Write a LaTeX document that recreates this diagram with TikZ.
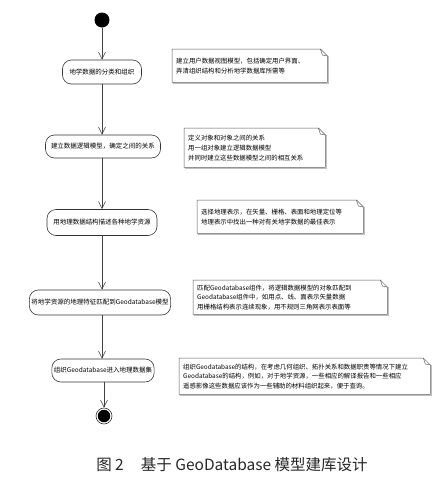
\documentclass[tikz,border=0pt]{standalone}
\usepackage{fontspec}
\setmainfont{Noto Sans CJK SC}
\usetikzlibrary{arrows.meta,calc}
\newcommand\drawnotebox[1]{%
  \draw[noteshadow] ([xshift=1.2pt,yshift=-1.2pt]#1.south west) -- ([xshift=1.2pt,yshift=-1.2pt]#1.south east) -- ([xshift=1.2pt,yshift=-7pt]#1.north east);
  \draw[noteline] (#1.north west) -- ([xshift=-7pt]#1.north east) -- ([yshift=-7pt]#1.north east) -- (#1.south east) -- (#1.south west) -- cycle;
  \draw[noteline] ([xshift=-7pt]#1.north east) -- ([xshift=-5pt,yshift=-6pt]#1.north east) -- ([yshift=-7pt]#1.north east);
}
\begin{document}
\begin{tikzpicture}[x=1pt,y=-1pt,
  act/.style={draw=black!80, line width=0.6pt, rounded corners=9pt, font=\fontsize{6.5}{8}\selectfont, inner xsep=2pt, inner ysep=1pt, minimum height=24pt, text=black},
  notebox/.style={anchor=north west, align=left, font=\fontsize{6.4}{10}\selectfont, inner xsep=4pt, inner ysep=2pt, text=black},
  noteline/.style={draw=black!65, line width=0.5pt},
  noteshadow/.style={draw=black!25, line width=1pt},
  flow/.style={draw=black!75, line width=0.6pt, -{Straight Barb[length=7pt,width=7pt]}},
]
\useasboundingbox (0,0) rectangle (445,483);

% start / end
\node[circle, fill=black, minimum size=15pt, inner sep=0pt] (start) at (102,20) {};

% activities
\node[act, minimum width=79pt] (a1) at (102,72) {地学数据的分类和组织};
\node[act, minimum width=115pt, minimum height=23pt] (a2) at (103,146.5) {建立数据逻辑模型，确定之间的关系};
\node[act, minimum width=110pt, minimum height=26pt] (a3) at (102,222.5) {用地理数据结构描述各种地学资源};
\node[act, minimum width=135pt, minimum height=25pt] (a4) at (100,302.5) {将地学资源的地理特征匹配到Geodatabase模型};
\node[act, minimum width=99pt, minimum height=23pt] (a5) at (103,370.5) {组织Geodatabase进入地理数据集};

\node[circle, draw=black!80, line width=0.6pt, minimum size=16pt, inner sep=0pt] (endo) at (104,416) {};
\node[circle, fill=black, minimum size=12.5pt, inner sep=0pt] (endi) at (endo.center) {};

% connectors
\draw[flow] (start) -- (a1);
\draw[flow] (a1.south) -- (a1.south |- a2.north);
\draw[flow] (a2.south -| 102,0) -- (102,0 |- a3.north);
\draw[flow] (a3.south) -- (a3.south |- a4.north);
\draw[flow] (a4.south -| 102,0) -- (102,0 |- a5.north);
\draw[flow] (a5.south -| endo.north) -- (endo.north);

% notes
\node[notebox, text width=147pt, minimum height=33pt] (n1) at (172,49)
  {建立用户数据视图模型，包括确定用户界面、\\弄清组织结构和分析地学数据库所需等};
\node[notebox, text width=133pt, minimum height=39pt] (n2) at (184,128)
  {定义对象和对象之间的关系\\用一组对象建立逻辑数据模型\\并同时建立这些数据模型之间的相互关系};
\node[notebox, text width=158pt, minimum height=33pt] (n3) at (197,200)
  {选择地理表示，在矢量、栅格、表面和地理定位等\\地理表示中找出一种对有关地学数据的最佳表示};
\node[notebox, text width=186pt, minimum height=34pt, font=\fontsize{6.4}{9.5}\selectfont] (n4) at (193,280)
  {匹配Geodatabase组件，将逻辑数据模型的对象匹配到\\Geodatabase组件中，如用点、线、面表示矢量数据\\用栅格结构表示连续现象，用不规则三角网表示表面等};
\node[notebox, text width=243pt, minimum height=36pt, font=\fontsize{6.4}{9.5}\selectfont] (n5) at (179,358)
  {组织Geodatabase的结构，在考虑几何组织、拓扑关系和数据职责等情况下建立\\Geodatabase的结构，例如，对于地学资源，一些相应的解译报告和一些相应\\遥感影像这些数据应该作为一些辅助的材料组织起来，便于查询。};

\drawnotebox{n1}
\drawnotebox{n2}
\drawnotebox{n3}
\drawnotebox{n4}
\drawnotebox{n5}

% caption
\node[font=\fontsize{15.5}{18}\selectfont, text=black!85] (cap) at (232,465)
  {图 2\hspace{1.1em}基于 GeoDatabase 模型建库设计};
\end{tikzpicture}
\end{document}
